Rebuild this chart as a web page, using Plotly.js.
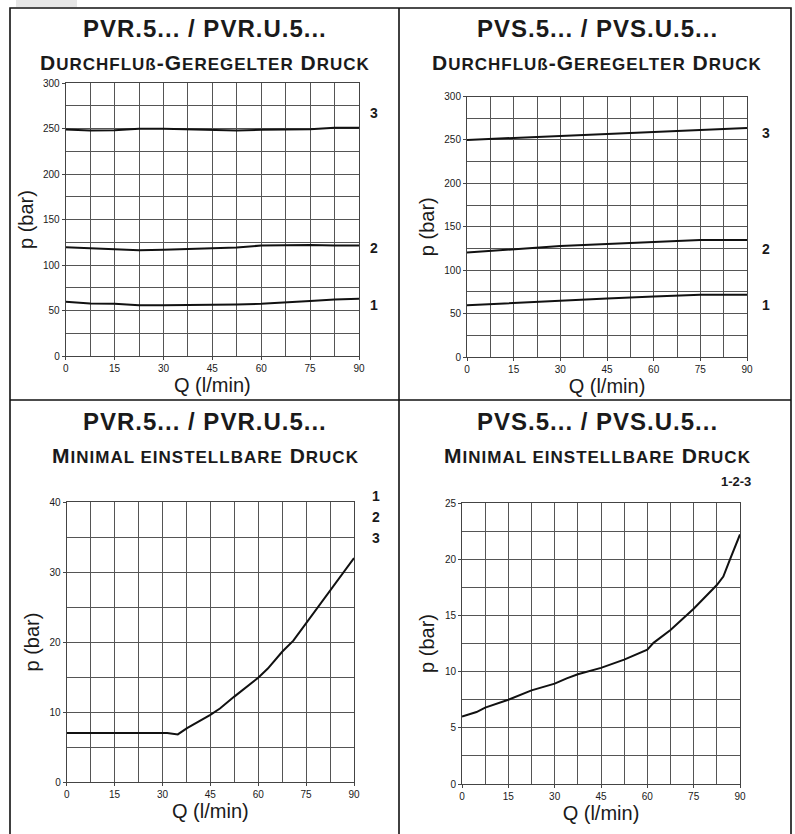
<!DOCTYPE html>
<html>
<head>
<meta charset="utf-8">
<script src="https://cdn.plot.ly/plotly-3.0.1.min.js"></script>
<style>html,body{margin:0;padding:0;background:#fff;}#chart{width:795px;height:834px;}</style>
</head>
<body>
<div id="chart"></div>
<script>
// ---------- data ----------
const pvrFlowQ = [0, 7.5, 15, 22.5, 30, 37.5, 45, 52.5, 60, 67.5, 75, 82.5, 90];
const pvrFlow1 = [59.6, 57.7, 57.3, 55.8, 55.8, 55.8, 55.8, 56.5, 57.3, 58.5, 60.4, 62.0, 63.0];
const pvrFlow2 = [119.6, 118.5, 117.4, 116.3, 116.7, 117.8, 118.5, 119.2, 121.4, 121.7, 122.1, 121.4, 121.4];
const pvrFlow3 = [249.0, 247.8, 248.0, 249.6, 249.6, 248.9, 247.8, 247.8, 248.5, 248.9, 249.3, 250.7, 250.7];

const pvsFlowQ = [0, 15, 30, 45, 60, 75, 90];
const pvsFlow1 = [59.5, 62.1, 65.5, 67.4, 69.7, 71.6, 71.6];
const pvsFlow2 = [120.4, 123.8, 127.7, 130.0, 132.7, 134.6, 134.6];
const pvsFlow3 = [250.0, 252.3, 255.4, 257.3, 259.6, 262.0, 263.8];

const pvrMinQ = [0, 31.5, 34.8, 37.7, 45, 48, 52.5, 60, 63, 67.5, 71, 75, 82.5, 90];
const pvrMinP = [7.0, 7.0, 6.8, 7.7, 9.6, 10.5, 12.2, 14.9, 16.2, 18.6, 20.2, 22.7, 27.3, 32.0];

const pvsMinQ = [0, 4.7, 7.5, 15, 22.5, 30, 33.9, 37.5, 45, 52.5, 60, 62, 67.5, 75, 82.5, 84.6, 86.7, 90];
const pvsMinP = [6.0, 6.4, 6.8, 7.5, 8.33, 8.93, 9.4, 9.76, 10.33, 11.07, 11.96, 12.56, 13.7, 15.6, 17.7, 18.45, 19.94, 22.2];

const curveLabelsFlow = ['1', '2', '3'];
const titleMain = ['PVR.5... / PVR.U.5...', 'PVS.5... / PVS.U.5...'];
const xTitle = 'Q (l/min)';
const yTitle = 'p (bar)';

// ---------- helpers ----------
const W = 795, H = 834;
const px = x => x / W;
const py = y => 1 - y / H;
const ink = '#1a1a1a';
const gridC = '#555';

function xAx(d, anchor) {
  return {
    domain: [px(d[0]), px(d[1])], anchor: anchor,
    range: [0, 90], tickmode: 'linear', tick0: 0, dtick: 15,
    showgrid: true, gridcolor: gridC, gridwidth: 1,
    minor: {dtick: 7.5, showgrid: true, gridcolor: gridC, gridwidth: 1},
    showline: true, mirror: true, linecolor: '#444', linewidth: 1,
    ticks: 'outside', ticklen: 3, tickcolor: '#444',
    tickfont: {size: 10, color: ink}, zeroline: false, fixedrange: true,
    title: {text: xTitle, font: {size: 20, color: ink}, standoff: 1}
  };
}
function yAx(d, anchor, top, dt) {
  return {
    domain: [py(d[1]), py(d[0])], anchor: anchor,
    range: [0, top], tickmode: 'linear', tick0: 0, dtick: dt,
    showgrid: true, gridcolor: gridC, gridwidth: 1,
    minor: {dtick: dt / 2, showgrid: true, gridcolor: gridC, gridwidth: 1},
    showline: true, mirror: true, linecolor: '#444', linewidth: 1,
    ticks: 'outside', ticklen: 3, tickcolor: '#444',
    tickfont: {size: 10, color: ink}, zeroline: false, fixedrange: true,
    title: {text: yTitle, font: {size: 20, color: ink}, standoff: 4}
  };
}
function line(x, y, xa, ya) {
  return {x: x, y: y, xaxis: xa, yaxis: ya, type: 'scatter', mode: 'lines',
          line: {color: '#111', width: 2}, hoverinfo: 'skip', cliponaxis: false};
}

const traces = [
  line(pvrFlowQ, pvrFlow1, 'x', 'y'),
  line(pvrFlowQ, pvrFlow2, 'x', 'y'),
  line(pvrFlowQ, pvrFlow3, 'x', 'y'),
  line(pvsFlowQ, pvsFlow1, 'x2', 'y2'),
  line(pvsFlowQ, pvsFlow2, 'x2', 'y2'),
  line(pvsFlowQ, pvsFlow3, 'x2', 'y2'),
  line(pvrMinQ, pvrMinP, 'x3', 'y3'),
  line(pvsMinQ, pvsMinP, 'x4', 'y4')
];

const LS = 'letter-spacing:1px';
const big = t => `<span style="font-size:21px;${LS}">${t}</span>`;
const sm = t => `<span style="font-size:17px;${LS}">${t}</span>`;
const subFlow = big('D') + sm('URCHFLUß') + big('-G') + sm('EREGELTER') + big(' D') + sm('RUCK');
const subMin = big('M') + sm('INIMAL EINSTELLBARE') + big(' D') + sm('RUCK');
const mainT = t => `<span style="letter-spacing:1px">${t}</span>`;

function ann(x, y, text, size, bold, xanchor) {
  return {xref: 'paper', yref: 'paper', x: px(x), y: py(y), text: text, showarrow: false,
          xanchor: xanchor || 'center', yanchor: 'middle',
          font: {size: size, color: ink, weight: bold ? 'bold' : 'normal'}};
}

const annotations = [
  ann(205, 28, mainT(titleMain[0]), 24, true),
  ann(205, 63, subFlow, 21, true),
  ann(597, 28, mainT(titleMain[1]), 24, true),
  ann(597, 63, subFlow, 21, true),
  ann(205, 422, mainT(titleMain[0]), 24, true),
  ann(205, 455, subMin, 21, true),
  ann(597, 422, mainT(titleMain[1]), 24, true),
  ann(597, 455, subMin, 21, true),
  ann(374, 305, curveLabelsFlow[0], 14, true),
  ann(374, 248, curveLabelsFlow[1], 14, true),
  ann(374, 113, curveLabelsFlow[2], 14, true),
  ann(766, 305, curveLabelsFlow[0], 14, true),
  ann(766, 249, curveLabelsFlow[1], 14, true),
  ann(766, 133, curveLabelsFlow[2], 14, true),
  ann(376, 496, curveLabelsFlow[0], 14, true),
  ann(376, 517, curveLabelsFlow[1], 14, true),
  ann(376, 538, curveLabelsFlow[2], 14, true),
  ann(753, 482, curveLabelsFlow.join('-'), 13, true, 'right')
];

const shapes = [
  {type: 'rect', xref: 'paper', yref: 'paper', x0: px(16), x1: px(77), y0: py(7), y1: py(0),
   fillcolor: '#e6e6e6', line: {width: 0}, layer: 'below'},
  {type: 'rect', xref: 'paper', yref: 'paper', x0: px(10), x1: px(791), y0: py(H + 10), y1: py(8),
   line: {color: '#111', width: 1.6}},
  {type: 'line', xref: 'paper', yref: 'paper', x0: px(399), x1: px(399), y0: py(H + 10), y1: py(8),
   line: {color: '#111', width: 1.6}},
  {type: 'line', xref: 'paper', yref: 'paper', x0: px(10), x1: px(791), y0: py(400), y1: py(400),
   line: {color: '#111', width: 1.6}}
];

const layout = {
  width: W, height: H, margin: {l: 0, r: 0, t: 0, b: 0},
  paper_bgcolor: '#fff', plot_bgcolor: '#fff', showlegend: false,
  font: {family: '"Liberation Sans", Arial, Helvetica, sans-serif', color: ink},
  xaxis: xAx([65.7, 359], 'y'),   yaxis: yAx([83, 356], 'x', 300, 50),
  xaxis2: xAx([467, 747], 'y2'),  yaxis2: yAx([96.5, 357], 'x2', 300, 50),
  xaxis3: xAx([66.7, 354], 'y3'), yaxis3: yAx([502, 782], 'x3', 40, 10),
  xaxis4: xAx([462, 740], 'y4'),  yaxis4: yAx([503, 784], 'x4', 25, 5),
  annotations: annotations, shapes: shapes
};

Plotly.newPlot('chart', traces, layout, {displayModeBar: false, staticPlot: true});
</script>
</body>
</html>
